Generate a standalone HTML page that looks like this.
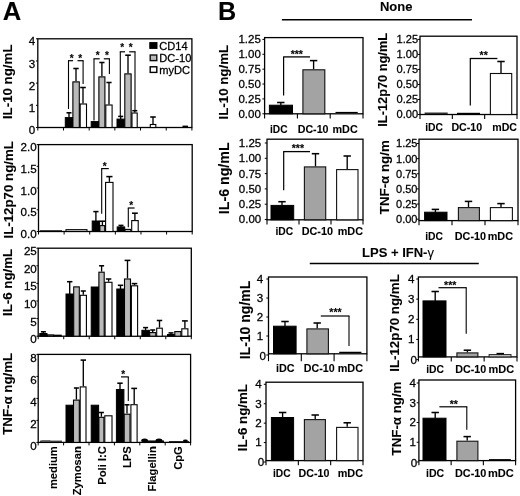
<!DOCTYPE html>
<html><head><meta charset="utf-8"><title>Figure</title>
<style>
html,body{margin:0;padding:0;background:#fff;}
body{width:520px;height:496px;overflow:hidden;}
svg{display:block;font-family:"Liberation Sans", sans-serif;}
text{fill:#000;} text.n{stroke:#000;stroke-width:0.28px;} text.b{stroke:#000;stroke-width:0.1px;}
</style></head>
<body>
<svg width="520" height="496" viewBox="0 0 520 496">
<defs><filter id="soft" x="0" y="0" width="100%" height="100%" filterUnits="userSpaceOnUse"><feGaussianBlur stdDeviation="0.35"/></filter></defs>
<rect x="0" y="0" width="520" height="496" fill="#fff"/>
<g filter="url(#soft)">
<text class="b" x="2.70" y="19.60" font-size="25.6" font-weight="bold" text-anchor="start">A</text>
<text class="b" x="218.00" y="19.60" font-size="25.2" font-weight="bold" text-anchor="start">B</text>
<rect x="37.80" y="38.80" width="154.10" height="88.70" fill="none" stroke="#000" stroke-width="1.3"/>
<line x1="36.00" y1="127.50" x2="37.80" y2="127.50" stroke="#000" stroke-width="1.0"/>
<text class="n" x="35.20" y="134.10" font-size="11.6" font-weight="normal" text-anchor="end">0</text>
<line x1="36.00" y1="105.33" x2="37.80" y2="105.33" stroke="#000" stroke-width="1.0"/>
<text class="n" x="35.20" y="111.92" font-size="11.6" font-weight="normal" text-anchor="end">1</text>
<line x1="36.00" y1="83.15" x2="37.80" y2="83.15" stroke="#000" stroke-width="1.0"/>
<text class="n" x="35.20" y="89.75" font-size="11.6" font-weight="normal" text-anchor="end">2</text>
<line x1="36.00" y1="60.97" x2="37.80" y2="60.97" stroke="#000" stroke-width="1.0"/>
<text class="n" x="35.20" y="67.57" font-size="11.6" font-weight="normal" text-anchor="end">3</text>
<line x1="36.00" y1="38.80" x2="37.80" y2="38.80" stroke="#000" stroke-width="1.0"/>
<text class="n" x="35.20" y="45.40" font-size="11.6" font-weight="normal" text-anchor="end">4</text>
<line x1="37.80" y1="127.50" x2="37.80" y2="130.50" stroke="#000" stroke-width="1.0"/>
<line x1="63.48" y1="127.50" x2="63.48" y2="130.50" stroke="#000" stroke-width="1.0"/>
<line x1="89.17" y1="127.50" x2="89.17" y2="130.50" stroke="#000" stroke-width="1.0"/>
<line x1="114.85" y1="127.50" x2="114.85" y2="130.50" stroke="#000" stroke-width="1.0"/>
<line x1="140.53" y1="127.50" x2="140.53" y2="130.50" stroke="#000" stroke-width="1.0"/>
<line x1="166.22" y1="127.50" x2="166.22" y2="130.50" stroke="#000" stroke-width="1.0"/>
<line x1="191.90" y1="127.50" x2="191.90" y2="130.50" stroke="#000" stroke-width="1.0"/>
<text class="b" x="12.50" y="81.80" font-size="13.3" font-weight="bold" text-anchor="middle" transform="rotate(-90 12.50 81.80)">IL-10 ng/mL</text>
<rect x="65.30" y="117.60" width="7.30" height="9.90" fill="#000" stroke="#000" stroke-width="1.0"/>
<line x1="69.00" y1="117.60" x2="69.00" y2="112.80" stroke="#000" stroke-width="1.35"/>
<line x1="66.50" y1="112.80" x2="71.50" y2="112.80" stroke="#000" stroke-width="1.55"/>
<rect x="72.90" y="81.90" width="6.40" height="45.60" fill="#bababa" stroke="#000" stroke-width="1.1"/>
<line x1="76.00" y1="81.30" x2="76.00" y2="68.50" stroke="#000" stroke-width="1.35"/>
<line x1="73.30" y1="68.50" x2="78.70" y2="68.50" stroke="#000" stroke-width="1.55"/>
<rect x="80.20" y="104.00" width="6.30" height="23.50" fill="#fff" stroke="#000" stroke-width="1.1"/>
<line x1="83.00" y1="103.40" x2="83.00" y2="87.50" stroke="#000" stroke-width="1.35"/>
<line x1="80.20" y1="87.50" x2="85.80" y2="87.50" stroke="#000" stroke-width="1.55"/>
<rect x="91.20" y="121.60" width="7.40" height="5.90" fill="#000" stroke="#000" stroke-width="1.0"/>
<rect x="98.90" y="76.90" width="6.00" height="50.60" fill="#bababa" stroke="#000" stroke-width="1.1"/>
<line x1="101.90" y1="76.30" x2="101.90" y2="62.50" stroke="#000" stroke-width="1.35"/>
<line x1="99.30" y1="62.50" x2="104.50" y2="62.50" stroke="#000" stroke-width="1.55"/>
<rect x="105.80" y="105.00" width="6.30" height="22.50" fill="#fff" stroke="#000" stroke-width="1.1"/>
<line x1="109.00" y1="104.40" x2="109.00" y2="82.50" stroke="#000" stroke-width="1.35"/>
<line x1="106.40" y1="82.50" x2="111.60" y2="82.50" stroke="#000" stroke-width="1.55"/>
<rect x="117.00" y="119.10" width="7.50" height="8.40" fill="#000" stroke="#000" stroke-width="1.0"/>
<line x1="120.70" y1="119.10" x2="120.70" y2="116.40" stroke="#000" stroke-width="1.35"/>
<line x1="118.20" y1="116.40" x2="123.20" y2="116.40" stroke="#000" stroke-width="1.55"/>
<rect x="124.80" y="73.90" width="6.30" height="53.60" fill="#bababa" stroke="#000" stroke-width="1.1"/>
<line x1="128.00" y1="73.30" x2="128.00" y2="55.20" stroke="#000" stroke-width="1.35"/>
<line x1="125.20" y1="55.20" x2="130.80" y2="55.20" stroke="#000" stroke-width="1.55"/>
<rect x="132.00" y="113.00" width="5.20" height="14.50" fill="#fff" stroke="#000" stroke-width="1.1"/>
<line x1="134.80" y1="112.40" x2="134.80" y2="110.70" stroke="#000" stroke-width="1.35"/>
<line x1="132.30" y1="110.70" x2="137.30" y2="110.70" stroke="#000" stroke-width="1.55"/>
<rect x="150.30" y="124.50" width="5.50" height="3.00" fill="#fff" stroke="#000" stroke-width="1.1"/>
<line x1="153.00" y1="123.90" x2="153.00" y2="117.00" stroke="#000" stroke-width="1.35"/>
<line x1="150.20" y1="117.00" x2="155.80" y2="117.00" stroke="#000" stroke-width="1.55"/>
<line x1="182.50" y1="126.30" x2="188.00" y2="126.30" stroke="#000" stroke-width="1.4"/>
<line x1="68.50" y1="60.70" x2="68.50" y2="109.00" stroke="#000" stroke-width="1.1"/>
<line x1="68.00" y1="60.70" x2="73.10" y2="60.70" stroke="#000" stroke-width="1.2"/>
<line x1="77.50" y1="60.70" x2="83.60" y2="60.70" stroke="#000" stroke-width="1.2"/>
<line x1="83.10" y1="60.70" x2="83.10" y2="84.00" stroke="#000" stroke-width="1.1"/>
<text class="b" x="71.60" y="61.80" font-size="10" font-weight="bold" text-anchor="middle">*</text>
<text class="b" x="80.10" y="61.80" font-size="10" font-weight="bold" text-anchor="middle">*</text>
<line x1="94.00" y1="58.80" x2="94.00" y2="120.50" stroke="#000" stroke-width="1.1"/>
<line x1="93.50" y1="58.80" x2="99.70" y2="58.80" stroke="#000" stroke-width="1.2"/>
<line x1="103.80" y1="58.80" x2="109.90" y2="58.80" stroke="#000" stroke-width="1.2"/>
<line x1="109.40" y1="58.80" x2="109.40" y2="74.00" stroke="#000" stroke-width="1.1"/>
<text class="b" x="97.80" y="58.50" font-size="10" font-weight="bold" text-anchor="middle">*</text>
<text class="b" x="106.90" y="58.50" font-size="10" font-weight="bold" text-anchor="middle">*</text>
<line x1="120.30" y1="51.80" x2="120.30" y2="116.00" stroke="#000" stroke-width="1.1"/>
<line x1="119.80" y1="51.80" x2="125.00" y2="51.80" stroke="#000" stroke-width="1.2"/>
<line x1="129.20" y1="51.80" x2="135.50" y2="51.80" stroke="#000" stroke-width="1.2"/>
<line x1="135.00" y1="51.80" x2="135.00" y2="110.50" stroke="#000" stroke-width="1.1"/>
<text class="b" x="122.20" y="50.60" font-size="10" font-weight="bold" text-anchor="middle">*</text>
<text class="b" x="130.60" y="50.60" font-size="10" font-weight="bold" text-anchor="middle">*</text>
<rect x="149.80" y="42.60" width="7.20" height="5.80" fill="#000" stroke="#000" stroke-width="1.0"/>
<rect x="150.20" y="55.00" width="6.60" height="5.60" fill="#bababa" stroke="#111" stroke-width="1.4"/>
<rect x="150.20" y="66.80" width="6.60" height="5.60" fill="#fff" stroke="#000" stroke-width="1.4"/>
<text class="n" x="159.30" y="49.80" font-size="11.1" font-weight="normal" text-anchor="start">CD14</text>
<text class="n" x="159.30" y="62.10" font-size="11.1" font-weight="normal" text-anchor="start">DC-10</text>
<text class="n" x="159.30" y="73.70" font-size="11.1" font-weight="normal" text-anchor="start">myDC</text>
<rect x="38.50" y="144.60" width="153.70" height="86.90" fill="none" stroke="#000" stroke-width="1.3"/>
<line x1="36.70" y1="231.50" x2="38.50" y2="231.50" stroke="#000" stroke-width="1.0"/>
<text class="n" x="36.60" y="238.00" font-size="11.6" font-weight="normal" text-anchor="end">0.0</text>
<line x1="36.70" y1="209.78" x2="38.50" y2="209.78" stroke="#000" stroke-width="1.0"/>
<text class="n" x="36.60" y="216.28" font-size="11.6" font-weight="normal" text-anchor="end">0.5</text>
<line x1="36.70" y1="188.05" x2="38.50" y2="188.05" stroke="#000" stroke-width="1.0"/>
<text class="n" x="36.60" y="194.55" font-size="11.6" font-weight="normal" text-anchor="end">1.0</text>
<line x1="36.70" y1="166.32" x2="38.50" y2="166.32" stroke="#000" stroke-width="1.0"/>
<text class="n" x="36.60" y="172.82" font-size="11.6" font-weight="normal" text-anchor="end">1.5</text>
<line x1="36.70" y1="144.60" x2="38.50" y2="144.60" stroke="#000" stroke-width="1.0"/>
<text class="n" x="36.60" y="151.10" font-size="11.6" font-weight="normal" text-anchor="end">2.0</text>
<line x1="38.50" y1="231.50" x2="38.50" y2="234.50" stroke="#000" stroke-width="1.0"/>
<line x1="64.12" y1="231.50" x2="64.12" y2="234.50" stroke="#000" stroke-width="1.0"/>
<line x1="89.73" y1="231.50" x2="89.73" y2="234.50" stroke="#000" stroke-width="1.0"/>
<line x1="115.35" y1="231.50" x2="115.35" y2="234.50" stroke="#000" stroke-width="1.0"/>
<line x1="140.97" y1="231.50" x2="140.97" y2="234.50" stroke="#000" stroke-width="1.0"/>
<line x1="166.58" y1="231.50" x2="166.58" y2="234.50" stroke="#000" stroke-width="1.0"/>
<line x1="192.20" y1="231.50" x2="192.20" y2="234.50" stroke="#000" stroke-width="1.0"/>
<text class="b" x="12.60" y="189.80" font-size="13.3" font-weight="bold" text-anchor="middle" transform="rotate(-90 12.60 189.80)">IL-12p70 ng/mL</text>
<rect x="66.00" y="229.60" width="21.00" height="1.90" fill="#bababa" stroke="#000" stroke-width="1.0"/>
<line x1="40.00" y1="230.80" x2="62.00" y2="230.80" stroke="#000" stroke-width="1.0"/>
<rect x="92.20" y="221.00" width="7.40" height="10.50" fill="#000" stroke="#000" stroke-width="1.0"/>
<line x1="95.90" y1="221.00" x2="95.90" y2="211.60" stroke="#000" stroke-width="1.35"/>
<line x1="93.30" y1="211.60" x2="98.50" y2="211.60" stroke="#000" stroke-width="1.55"/>
<rect x="99.90" y="225.60" width="4.80" height="5.90" fill="#bababa" stroke="#000" stroke-width="1.1"/>
<line x1="102.40" y1="225.00" x2="102.40" y2="221.20" stroke="#000" stroke-width="1.35"/>
<line x1="99.70" y1="221.20" x2="105.10" y2="221.20" stroke="#000" stroke-width="1.55"/>
<rect x="105.60" y="182.40" width="7.40" height="49.10" fill="#fff" stroke="#000" stroke-width="1.1"/>
<line x1="109.40" y1="181.80" x2="109.40" y2="176.60" stroke="#000" stroke-width="1.35"/>
<line x1="106.30" y1="176.60" x2="112.50" y2="176.60" stroke="#000" stroke-width="1.55"/>
<line x1="101.70" y1="168.60" x2="101.70" y2="213.70" stroke="#000" stroke-width="1.1"/>
<line x1="101.20" y1="168.60" x2="108.80" y2="168.60" stroke="#000" stroke-width="1.2"/>
<text class="b" x="104.70" y="170.00" font-size="10" font-weight="bold" text-anchor="middle">*</text>
<rect x="117.20" y="226.90" width="7.50" height="4.60" fill="#000" stroke="#000" stroke-width="1.0"/>
<line x1="121.00" y1="226.90" x2="121.00" y2="225.40" stroke="#000" stroke-width="1.35"/>
<line x1="118.50" y1="225.40" x2="123.50" y2="225.40" stroke="#000" stroke-width="1.55"/>
<rect x="125.00" y="229.40" width="5.80" height="2.10" fill="#bababa" stroke="#000" stroke-width="1.1"/>
<rect x="131.70" y="220.60" width="6.50" height="10.90" fill="#fff" stroke="#000" stroke-width="1.1"/>
<line x1="134.90" y1="220.00" x2="134.90" y2="213.20" stroke="#000" stroke-width="1.35"/>
<line x1="132.00" y1="213.20" x2="137.80" y2="213.20" stroke="#000" stroke-width="1.55"/>
<line x1="128.30" y1="208.00" x2="128.30" y2="227.30" stroke="#000" stroke-width="1.1"/>
<line x1="127.80" y1="208.00" x2="134.60" y2="208.00" stroke="#000" stroke-width="1.2"/>
<text class="b" x="131.10" y="208.80" font-size="10" font-weight="bold" text-anchor="middle">*</text>
<rect x="38.20" y="248.20" width="153.10" height="88.00" fill="none" stroke="#000" stroke-width="1.3"/>
<line x1="36.40" y1="336.20" x2="38.20" y2="336.20" stroke="#000" stroke-width="1.0"/>
<text class="n" x="36.80" y="343.20" font-size="11.6" font-weight="normal" text-anchor="end">0</text>
<line x1="36.40" y1="318.60" x2="38.20" y2="318.60" stroke="#000" stroke-width="1.0"/>
<text class="n" x="36.80" y="325.60" font-size="11.6" font-weight="normal" text-anchor="end">5</text>
<line x1="36.40" y1="301.00" x2="38.20" y2="301.00" stroke="#000" stroke-width="1.0"/>
<text class="n" x="36.80" y="308.00" font-size="11.6" font-weight="normal" text-anchor="end">10</text>
<line x1="36.40" y1="283.40" x2="38.20" y2="283.40" stroke="#000" stroke-width="1.0"/>
<text class="n" x="36.80" y="290.40" font-size="11.6" font-weight="normal" text-anchor="end">15</text>
<line x1="36.40" y1="265.80" x2="38.20" y2="265.80" stroke="#000" stroke-width="1.0"/>
<text class="n" x="36.80" y="272.80" font-size="11.6" font-weight="normal" text-anchor="end">20</text>
<line x1="36.40" y1="248.20" x2="38.20" y2="248.20" stroke="#000" stroke-width="1.0"/>
<text class="n" x="36.80" y="255.20" font-size="11.6" font-weight="normal" text-anchor="end">25</text>
<line x1="38.20" y1="336.20" x2="38.20" y2="339.20" stroke="#000" stroke-width="1.0"/>
<line x1="63.72" y1="336.20" x2="63.72" y2="339.20" stroke="#000" stroke-width="1.0"/>
<line x1="89.23" y1="336.20" x2="89.23" y2="339.20" stroke="#000" stroke-width="1.0"/>
<line x1="114.75" y1="336.20" x2="114.75" y2="339.20" stroke="#000" stroke-width="1.0"/>
<line x1="140.27" y1="336.20" x2="140.27" y2="339.20" stroke="#000" stroke-width="1.0"/>
<line x1="165.78" y1="336.20" x2="165.78" y2="339.20" stroke="#000" stroke-width="1.0"/>
<line x1="191.30" y1="336.20" x2="191.30" y2="339.20" stroke="#000" stroke-width="1.0"/>
<text class="b" x="12.40" y="282.40" font-size="13.3" font-weight="bold" text-anchor="middle" transform="rotate(-90 12.40 282.40)">IL-6 ng/mL</text>
<rect x="39.80" y="333.50" width="7.20" height="2.70" fill="#000" stroke="#000" stroke-width="1.0"/>
<line x1="43.40" y1="333.50" x2="43.40" y2="331.80" stroke="#000" stroke-width="1.35"/>
<line x1="40.90" y1="331.80" x2="45.90" y2="331.80" stroke="#000" stroke-width="1.55"/>
<rect x="47.40" y="334.90" width="6.20" height="1.30" fill="#bababa" stroke="#000" stroke-width="1.1"/>
<rect x="54.60" y="335.20" width="6.60" height="1.00" fill="#fff" stroke="#000" stroke-width="1.1"/>
<rect x="66.00" y="294.00" width="7.40" height="42.20" fill="#000" stroke="#000" stroke-width="1.0"/>
<line x1="69.70" y1="294.00" x2="69.70" y2="281.70" stroke="#000" stroke-width="1.35"/>
<line x1="67.00" y1="281.70" x2="72.40" y2="281.70" stroke="#000" stroke-width="1.55"/>
<rect x="73.70" y="286.90" width="5.60" height="49.30" fill="#bababa" stroke="#000" stroke-width="1.1"/>
<rect x="80.20" y="295.30" width="6.20" height="40.90" fill="#fff" stroke="#000" stroke-width="1.1"/>
<line x1="83.30" y1="294.70" x2="83.30" y2="291.00" stroke="#000" stroke-width="1.35"/>
<line x1="80.80" y1="291.00" x2="85.80" y2="291.00" stroke="#000" stroke-width="1.55"/>
<rect x="91.20" y="287.00" width="7.40" height="49.20" fill="#000" stroke="#000" stroke-width="1.0"/>
<rect x="98.90" y="272.20" width="5.30" height="64.00" fill="#bababa" stroke="#000" stroke-width="1.1"/>
<line x1="101.60" y1="271.60" x2="101.60" y2="265.80" stroke="#000" stroke-width="1.35"/>
<line x1="99.10" y1="265.80" x2="104.10" y2="265.80" stroke="#000" stroke-width="1.55"/>
<rect x="105.10" y="282.30" width="6.90" height="53.90" fill="#fff" stroke="#000" stroke-width="1.1"/>
<line x1="108.60" y1="281.70" x2="108.60" y2="279.00" stroke="#000" stroke-width="1.35"/>
<line x1="105.90" y1="279.00" x2="111.30" y2="279.00" stroke="#000" stroke-width="1.55"/>
<rect x="116.80" y="289.00" width="7.40" height="47.20" fill="#000" stroke="#000" stroke-width="1.0"/>
<line x1="120.50" y1="289.00" x2="120.50" y2="285.30" stroke="#000" stroke-width="1.35"/>
<line x1="117.80" y1="285.30" x2="123.20" y2="285.30" stroke="#000" stroke-width="1.55"/>
<rect x="124.50" y="279.00" width="6.00" height="57.20" fill="#bababa" stroke="#000" stroke-width="1.1"/>
<line x1="127.50" y1="278.40" x2="127.50" y2="260.40" stroke="#000" stroke-width="1.35"/>
<line x1="124.60" y1="260.40" x2="130.40" y2="260.40" stroke="#000" stroke-width="1.55"/>
<rect x="131.40" y="285.80" width="6.20" height="50.40" fill="#fff" stroke="#000" stroke-width="1.1"/>
<line x1="134.50" y1="285.20" x2="134.50" y2="283.60" stroke="#000" stroke-width="1.35"/>
<line x1="131.70" y1="283.60" x2="137.30" y2="283.60" stroke="#000" stroke-width="1.55"/>
<rect x="141.90" y="330.30" width="7.50" height="5.90" fill="#000" stroke="#000" stroke-width="1.0"/>
<line x1="145.60" y1="330.30" x2="145.60" y2="327.60" stroke="#000" stroke-width="1.35"/>
<line x1="143.10" y1="327.60" x2="148.10" y2="327.60" stroke="#000" stroke-width="1.55"/>
<rect x="149.70" y="332.60" width="6.10" height="3.60" fill="#bababa" stroke="#000" stroke-width="1.1"/>
<line x1="152.70" y1="332.00" x2="152.70" y2="330.00" stroke="#000" stroke-width="1.35"/>
<line x1="150.20" y1="330.00" x2="155.20" y2="330.00" stroke="#000" stroke-width="1.55"/>
<rect x="156.70" y="328.20" width="5.60" height="8.00" fill="#fff" stroke="#000" stroke-width="1.1"/>
<line x1="159.50" y1="327.60" x2="159.50" y2="320.50" stroke="#000" stroke-width="1.35"/>
<line x1="156.80" y1="320.50" x2="162.20" y2="320.50" stroke="#000" stroke-width="1.55"/>
<rect x="167.50" y="334.50" width="7.00" height="1.70" fill="#000" stroke="#000" stroke-width="1.0"/>
<line x1="171.00" y1="334.50" x2="171.00" y2="332.90" stroke="#000" stroke-width="1.35"/>
<line x1="168.50" y1="332.90" x2="173.50" y2="332.90" stroke="#000" stroke-width="1.55"/>
<rect x="174.80" y="331.60" width="6.10" height="4.60" fill="#bababa" stroke="#000" stroke-width="1.1"/>
<rect x="181.80" y="328.80" width="6.10" height="7.40" fill="#fff" stroke="#000" stroke-width="1.1"/>
<line x1="184.90" y1="328.20" x2="184.90" y2="320.90" stroke="#000" stroke-width="1.35"/>
<line x1="182.00" y1="320.90" x2="187.80" y2="320.90" stroke="#000" stroke-width="1.55"/>
<rect x="38.20" y="354.40" width="152.40" height="88.00" fill="none" stroke="#000" stroke-width="1.3"/>
<line x1="36.40" y1="442.40" x2="38.20" y2="442.40" stroke="#000" stroke-width="1.0"/>
<text class="n" x="36.60" y="449.80" font-size="11.6" font-weight="normal" text-anchor="end">0</text>
<line x1="36.40" y1="420.40" x2="38.20" y2="420.40" stroke="#000" stroke-width="1.0"/>
<text class="n" x="36.60" y="427.80" font-size="11.6" font-weight="normal" text-anchor="end">2</text>
<line x1="36.40" y1="398.40" x2="38.20" y2="398.40" stroke="#000" stroke-width="1.0"/>
<text class="n" x="36.60" y="405.80" font-size="11.6" font-weight="normal" text-anchor="end">4</text>
<line x1="36.40" y1="376.40" x2="38.20" y2="376.40" stroke="#000" stroke-width="1.0"/>
<text class="n" x="36.60" y="383.80" font-size="11.6" font-weight="normal" text-anchor="end">6</text>
<line x1="36.40" y1="354.40" x2="38.20" y2="354.40" stroke="#000" stroke-width="1.0"/>
<text class="n" x="36.60" y="361.80" font-size="11.6" font-weight="normal" text-anchor="end">8</text>
<line x1="38.20" y1="442.40" x2="38.20" y2="445.40" stroke="#000" stroke-width="1.0"/>
<line x1="63.60" y1="442.40" x2="63.60" y2="445.40" stroke="#000" stroke-width="1.0"/>
<line x1="89.00" y1="442.40" x2="89.00" y2="445.40" stroke="#000" stroke-width="1.0"/>
<line x1="114.40" y1="442.40" x2="114.40" y2="445.40" stroke="#000" stroke-width="1.0"/>
<line x1="139.80" y1="442.40" x2="139.80" y2="445.40" stroke="#000" stroke-width="1.0"/>
<line x1="165.20" y1="442.40" x2="165.20" y2="445.40" stroke="#000" stroke-width="1.0"/>
<line x1="190.60" y1="442.40" x2="190.60" y2="445.40" stroke="#000" stroke-width="1.0"/>
<text class="b" x="12.40" y="393.80" font-size="13.3" font-weight="bold" text-anchor="middle" transform="rotate(-90 12.40 393.80)">TNF-&#945; ng/mL</text>
<line x1="40.00" y1="441.20" x2="62.00" y2="441.20" stroke="#000" stroke-width="1.0"/>
<rect x="42.00" y="440.60" width="8.00" height="1.00" fill="#555" stroke="#555" stroke-width="0.5"/>
<rect x="66.00" y="405.20" width="7.20" height="37.20" fill="#000" stroke="#000" stroke-width="1.0"/>
<rect x="73.50" y="400.10" width="5.80" height="42.30" fill="#bababa" stroke="#000" stroke-width="1.1"/>
<line x1="76.40" y1="399.50" x2="76.40" y2="388.00" stroke="#000" stroke-width="1.35"/>
<line x1="73.90" y1="388.00" x2="78.90" y2="388.00" stroke="#000" stroke-width="1.55"/>
<rect x="80.20" y="386.90" width="5.80" height="55.50" fill="#fff" stroke="#000" stroke-width="1.1"/>
<line x1="83.30" y1="386.30" x2="83.30" y2="360.10" stroke="#000" stroke-width="1.35"/>
<line x1="80.60" y1="360.10" x2="86.00" y2="360.10" stroke="#000" stroke-width="1.55"/>
<rect x="91.20" y="405.20" width="7.40" height="37.20" fill="#000" stroke="#000" stroke-width="1.0"/>
<rect x="98.90" y="417.30" width="5.00" height="25.10" fill="#bababa" stroke="#000" stroke-width="1.1"/>
<line x1="101.40" y1="416.70" x2="101.40" y2="412.50" stroke="#000" stroke-width="1.35"/>
<line x1="98.90" y1="412.50" x2="103.90" y2="412.50" stroke="#000" stroke-width="1.55"/>
<rect x="104.80" y="415.80" width="7.20" height="26.60" fill="#fff" stroke="#000" stroke-width="1.1"/>
<rect x="116.40" y="389.50" width="7.50" height="52.90" fill="#000" stroke="#000" stroke-width="1.0"/>
<line x1="120.00" y1="389.50" x2="120.00" y2="383.20" stroke="#000" stroke-width="1.35"/>
<line x1="117.30" y1="383.20" x2="122.70" y2="383.20" stroke="#000" stroke-width="1.55"/>
<rect x="124.20" y="414.20" width="5.80" height="28.20" fill="#bababa" stroke="#000" stroke-width="1.1"/>
<line x1="127.00" y1="413.60" x2="127.00" y2="404.80" stroke="#000" stroke-width="1.35"/>
<line x1="124.50" y1="404.80" x2="129.50" y2="404.80" stroke="#000" stroke-width="1.55"/>
<rect x="130.90" y="404.70" width="6.20" height="37.70" fill="#fff" stroke="#000" stroke-width="1.1"/>
<line x1="134.20" y1="404.10" x2="134.20" y2="388.40" stroke="#000" stroke-width="1.35"/>
<line x1="131.30" y1="388.40" x2="137.10" y2="388.40" stroke="#000" stroke-width="1.55"/>
<line x1="121.00" y1="376.90" x2="128.80" y2="376.90" stroke="#000" stroke-width="1.2"/>
<line x1="128.30" y1="376.90" x2="128.30" y2="401.00" stroke="#000" stroke-width="1.1"/>
<text class="b" x="123.10" y="377.60" font-size="10" font-weight="bold" text-anchor="middle">*</text>
<ellipse cx="144.6" cy="440.4" rx="3.4" ry="2.0" fill="#000"/>
<ellipse cx="159" cy="440.4" rx="3.4" ry="2.0" fill="#000"/>
<line x1="142.00" y1="441.20" x2="164.00" y2="441.20" stroke="#000" stroke-width="1.5"/>
<ellipse cx="185.4" cy="440.8" rx="2.4" ry="1.4" fill="#000"/>
<line x1="169.00" y1="441.60" x2="189.00" y2="441.60" stroke="#000" stroke-width="0.9"/>
<text class="b" x="57.00" y="446.20" font-size="11.2" font-weight="bold" text-anchor="end" transform="rotate(-90 57.00 446.20)">medium</text>
<text class="b" x="81.50" y="446.20" font-size="11.2" font-weight="bold" text-anchor="end" transform="rotate(-90 81.50 446.20)">Zymosan</text>
<text class="b" x="106.20" y="446.20" font-size="11.2" font-weight="bold" text-anchor="end" transform="rotate(-90 106.20 446.20)">Poli I:C</text>
<text class="b" x="130.90" y="446.20" font-size="11.2" font-weight="bold" text-anchor="end" transform="rotate(-90 130.90 446.20)">LPS</text>
<text class="b" x="156.40" y="446.20" font-size="11.2" font-weight="bold" text-anchor="end" transform="rotate(-90 156.40 446.20)">Flagellin</text>
<text class="b" x="182.20" y="446.20" font-size="11.2" font-weight="bold" text-anchor="end" transform="rotate(-90 182.20 446.20)">CpG</text>
<text class="b" x="396.20" y="11.20" font-size="13" font-weight="bold" text-anchor="middle">None</text>
<line x1="281.90" y1="19.80" x2="472.00" y2="19.80" stroke="#000" stroke-width="1.4"/>
<text class="b" x="398.00" y="256.80" font-size="13" font-weight="bold" text-anchor="middle">LPS + IFN-<tspan font-weight="normal">&#947;</tspan></text>
<line x1="309.80" y1="263.50" x2="478.80" y2="263.50" stroke="#000" stroke-width="1.4"/>
<rect x="264.60" y="37.60" width="98.40" height="76.20" fill="none" stroke="#000" stroke-width="1.3"/>
<line x1="262.40" y1="113.80" x2="264.60" y2="113.80" stroke="#000" stroke-width="1.0"/>
<text class="n" x="260.80" y="117.70" font-size="11.5" font-weight="normal" text-anchor="end">0.00</text>
<line x1="262.40" y1="98.92" x2="264.60" y2="98.92" stroke="#000" stroke-width="1.0"/>
<text class="n" x="260.80" y="102.82" font-size="11.5" font-weight="normal" text-anchor="end">0.25</text>
<line x1="262.40" y1="84.04" x2="264.60" y2="84.04" stroke="#000" stroke-width="1.0"/>
<text class="n" x="260.80" y="87.94" font-size="11.5" font-weight="normal" text-anchor="end">0.50</text>
<line x1="262.40" y1="69.16" x2="264.60" y2="69.16" stroke="#000" stroke-width="1.0"/>
<text class="n" x="260.80" y="73.06" font-size="11.5" font-weight="normal" text-anchor="end">0.75</text>
<line x1="262.40" y1="54.28" x2="264.60" y2="54.28" stroke="#000" stroke-width="1.0"/>
<text class="n" x="260.80" y="58.18" font-size="11.5" font-weight="normal" text-anchor="end">1.00</text>
<line x1="262.40" y1="39.40" x2="264.60" y2="39.40" stroke="#000" stroke-width="1.0"/>
<text class="n" x="260.80" y="43.30" font-size="11.5" font-weight="normal" text-anchor="end">1.25</text>
<line x1="264.60" y1="113.80" x2="264.60" y2="118.40" stroke="#000" stroke-width="1.1"/>
<line x1="297.40" y1="113.80" x2="297.40" y2="118.40" stroke="#000" stroke-width="1.1"/>
<line x1="330.20" y1="113.80" x2="330.20" y2="118.40" stroke="#000" stroke-width="1.1"/>
<line x1="363.00" y1="113.80" x2="363.00" y2="118.40" stroke="#000" stroke-width="1.1"/>
<text class="b" x="228.50" y="82.20" font-size="13.3" font-weight="bold" text-anchor="middle" transform="rotate(-90 228.50 82.20)">IL-10 ng/mL</text>
<text class="b" x="270.00" y="132.50" font-size="11.8" font-weight="bold" textLength="17.50" lengthAdjust="spacingAndGlyphs">iDC</text>
<text class="b" x="297.70" y="132.50" font-size="11.8" font-weight="bold" textLength="30.80" lengthAdjust="spacingAndGlyphs">DC-10</text>
<text class="b" x="332.50" y="132.50" font-size="11.8" font-weight="bold" textLength="25.20" lengthAdjust="spacingAndGlyphs">mDC</text>
<rect x="269.40" y="105.20" width="23.10" height="8.60" fill="#000" stroke="#000" stroke-width="1.0"/>
<line x1="280.80" y1="105.20" x2="280.80" y2="102.50" stroke="#000" stroke-width="1.35"/>
<line x1="277.10" y1="102.50" x2="284.50" y2="102.50" stroke="#000" stroke-width="1.55"/>
<rect x="302.90" y="69.80" width="21.90" height="44.00" fill="#a3a3a3" stroke="#111" stroke-width="1.1"/>
<line x1="313.60" y1="69.20" x2="313.60" y2="60.60" stroke="#000" stroke-width="1.35"/>
<line x1="309.90" y1="60.60" x2="317.30" y2="60.60" stroke="#000" stroke-width="1.55"/>
<line x1="335.50" y1="112.50" x2="357.70" y2="112.50" stroke="#000" stroke-width="1.2"/>
<line x1="283.60" y1="56.90" x2="283.60" y2="95.50" stroke="#000" stroke-width="1.2"/>
<line x1="283.10" y1="56.90" x2="310.00" y2="56.90" stroke="#000" stroke-width="1.3"/>
<text class="b" x="296.80" y="58.20" font-size="10.5" font-weight="bold" text-anchor="middle">***</text>
<rect x="420.00" y="36.20" width="97.00" height="78.30" fill="none" stroke="#000" stroke-width="1.3"/>
<line x1="417.80" y1="114.50" x2="420.00" y2="114.50" stroke="#000" stroke-width="1.0"/>
<text class="n" x="418.20" y="118.40" font-size="11.1" font-weight="normal" text-anchor="end">0.00</text>
<line x1="417.80" y1="99.48" x2="420.00" y2="99.48" stroke="#000" stroke-width="1.0"/>
<text class="n" x="418.20" y="103.38" font-size="11.1" font-weight="normal" text-anchor="end">0.25</text>
<line x1="417.80" y1="84.46" x2="420.00" y2="84.46" stroke="#000" stroke-width="1.0"/>
<text class="n" x="418.20" y="88.36" font-size="11.1" font-weight="normal" text-anchor="end">0.50</text>
<line x1="417.80" y1="69.44" x2="420.00" y2="69.44" stroke="#000" stroke-width="1.0"/>
<text class="n" x="418.20" y="73.34" font-size="11.1" font-weight="normal" text-anchor="end">0.75</text>
<line x1="417.80" y1="54.42" x2="420.00" y2="54.42" stroke="#000" stroke-width="1.0"/>
<text class="n" x="418.20" y="58.32" font-size="11.1" font-weight="normal" text-anchor="end">1.00</text>
<line x1="417.80" y1="39.40" x2="420.00" y2="39.40" stroke="#000" stroke-width="1.0"/>
<text class="n" x="418.20" y="43.30" font-size="11.1" font-weight="normal" text-anchor="end">1.25</text>
<line x1="420.00" y1="114.50" x2="420.00" y2="119.10" stroke="#000" stroke-width="1.1"/>
<line x1="452.33" y1="114.50" x2="452.33" y2="119.10" stroke="#000" stroke-width="1.1"/>
<line x1="484.67" y1="114.50" x2="484.67" y2="119.10" stroke="#000" stroke-width="1.1"/>
<line x1="517.00" y1="114.50" x2="517.00" y2="119.10" stroke="#000" stroke-width="1.1"/>
<text class="b" x="387.00" y="79.80" font-size="12.8" font-weight="bold" text-anchor="middle" transform="rotate(-90 387.00 79.80)">IL-12p70 ng/mL</text>
<text class="b" x="425.20" y="130.90" font-size="11.8" font-weight="bold" textLength="17.80" lengthAdjust="spacingAndGlyphs">iDC</text>
<text class="b" x="451.40" y="130.90" font-size="11.8" font-weight="bold" textLength="30.80" lengthAdjust="spacingAndGlyphs">DC-10</text>
<text class="b" x="492.30" y="130.90" font-size="11.8" font-weight="bold" textLength="24.70" lengthAdjust="spacingAndGlyphs">mDC</text>
<line x1="424.60" y1="113.20" x2="447.70" y2="113.20" stroke="#000" stroke-width="1.2"/>
<line x1="457.00" y1="113.40" x2="480.00" y2="113.40" stroke="#000" stroke-width="1.2"/>
<rect x="490.40" y="73.50" width="21.30" height="41.00" fill="#fff" stroke="#111" stroke-width="1.1"/>
<line x1="501.00" y1="72.90" x2="501.00" y2="61.50" stroke="#000" stroke-width="1.35"/>
<line x1="497.30" y1="61.50" x2="504.70" y2="61.50" stroke="#000" stroke-width="1.55"/>
<line x1="470.30" y1="58.50" x2="470.30" y2="105.50" stroke="#000" stroke-width="1.2"/>
<line x1="469.80" y1="58.50" x2="497.40" y2="58.50" stroke="#000" stroke-width="1.3"/>
<text class="b" x="483.70" y="59.00" font-size="10.5" font-weight="bold" text-anchor="middle">**</text>
<rect x="267.00" y="139.20" width="96.00" height="80.60" fill="none" stroke="#000" stroke-width="1.3"/>
<line x1="264.80" y1="219.50" x2="267.00" y2="219.50" stroke="#000" stroke-width="1.0"/>
<text class="n" x="261.20" y="223.40" font-size="11.5" font-weight="normal" text-anchor="end">0.00</text>
<line x1="264.80" y1="204.20" x2="267.00" y2="204.20" stroke="#000" stroke-width="1.0"/>
<text class="n" x="261.20" y="208.10" font-size="11.5" font-weight="normal" text-anchor="end">0.25</text>
<line x1="264.80" y1="188.90" x2="267.00" y2="188.90" stroke="#000" stroke-width="1.0"/>
<text class="n" x="261.20" y="192.80" font-size="11.5" font-weight="normal" text-anchor="end">0.50</text>
<line x1="264.80" y1="173.60" x2="267.00" y2="173.60" stroke="#000" stroke-width="1.0"/>
<text class="n" x="261.20" y="177.50" font-size="11.5" font-weight="normal" text-anchor="end">0.75</text>
<line x1="264.80" y1="158.30" x2="267.00" y2="158.30" stroke="#000" stroke-width="1.0"/>
<text class="n" x="261.20" y="162.20" font-size="11.5" font-weight="normal" text-anchor="end">1.00</text>
<line x1="264.80" y1="143.00" x2="267.00" y2="143.00" stroke="#000" stroke-width="1.0"/>
<text class="n" x="261.20" y="146.90" font-size="11.5" font-weight="normal" text-anchor="end">1.25</text>
<line x1="267.00" y1="219.80" x2="267.00" y2="224.40" stroke="#000" stroke-width="1.1"/>
<line x1="299.00" y1="219.80" x2="299.00" y2="224.40" stroke="#000" stroke-width="1.1"/>
<line x1="331.00" y1="219.80" x2="331.00" y2="224.40" stroke="#000" stroke-width="1.1"/>
<line x1="363.00" y1="219.80" x2="363.00" y2="224.40" stroke="#000" stroke-width="1.1"/>
<text class="b" x="229.30" y="178.30" font-size="14.2" font-weight="bold" text-anchor="middle" transform="rotate(-90 229.30 178.30)">IL-6 ng/mL</text>
<text class="b" x="275.40" y="235.40" font-size="11.8" font-weight="bold" textLength="17.80" lengthAdjust="spacingAndGlyphs">iDC</text>
<text class="b" x="301.70" y="235.40" font-size="11.8" font-weight="bold" textLength="31.30" lengthAdjust="spacingAndGlyphs">DC-10</text>
<text class="b" x="337.70" y="235.40" font-size="11.8" font-weight="bold" textLength="25.30" lengthAdjust="spacingAndGlyphs">mDC</text>
<rect x="271.00" y="205.40" width="22.70" height="14.40" fill="#000" stroke="#000" stroke-width="1.0"/>
<line x1="282.00" y1="205.40" x2="282.00" y2="201.70" stroke="#000" stroke-width="1.35"/>
<line x1="278.30" y1="201.70" x2="285.70" y2="201.70" stroke="#000" stroke-width="1.55"/>
<rect x="304.40" y="166.90" width="21.30" height="52.90" fill="#a3a3a3" stroke="#111" stroke-width="1.1"/>
<line x1="315.50" y1="166.30" x2="315.50" y2="153.70" stroke="#000" stroke-width="1.35"/>
<line x1="311.80" y1="153.70" x2="319.20" y2="153.70" stroke="#000" stroke-width="1.55"/>
<rect x="336.60" y="169.60" width="21.40" height="50.20" fill="#fff" stroke="#111" stroke-width="1.1"/>
<line x1="347.20" y1="169.00" x2="347.20" y2="156.00" stroke="#000" stroke-width="1.35"/>
<line x1="343.50" y1="156.00" x2="350.90" y2="156.00" stroke="#000" stroke-width="1.55"/>
<line x1="283.70" y1="151.60" x2="283.70" y2="190.20" stroke="#000" stroke-width="1.2"/>
<line x1="283.20" y1="151.60" x2="310.00" y2="151.60" stroke="#000" stroke-width="1.3"/>
<text class="b" x="297.90" y="152.40" font-size="10.5" font-weight="bold" text-anchor="middle">***</text>
<rect x="419.00" y="139.20" width="99.00" height="81.40" fill="none" stroke="#000" stroke-width="1.3"/>
<line x1="416.80" y1="219.20" x2="419.00" y2="219.20" stroke="#000" stroke-width="1.0"/>
<text class="n" x="417.50" y="223.10" font-size="11.0" font-weight="normal" text-anchor="end">0.00</text>
<line x1="416.80" y1="204.06" x2="419.00" y2="204.06" stroke="#000" stroke-width="1.0"/>
<text class="n" x="417.50" y="207.96" font-size="11.0" font-weight="normal" text-anchor="end">0.25</text>
<line x1="416.80" y1="188.92" x2="419.00" y2="188.92" stroke="#000" stroke-width="1.0"/>
<text class="n" x="417.50" y="192.82" font-size="11.0" font-weight="normal" text-anchor="end">0.50</text>
<line x1="416.80" y1="173.78" x2="419.00" y2="173.78" stroke="#000" stroke-width="1.0"/>
<text class="n" x="417.50" y="177.68" font-size="11.0" font-weight="normal" text-anchor="end">0.75</text>
<line x1="416.80" y1="158.64" x2="419.00" y2="158.64" stroke="#000" stroke-width="1.0"/>
<text class="n" x="417.50" y="162.54" font-size="11.0" font-weight="normal" text-anchor="end">1.00</text>
<line x1="416.80" y1="143.50" x2="419.00" y2="143.50" stroke="#000" stroke-width="1.0"/>
<text class="n" x="417.50" y="147.40" font-size="11.0" font-weight="normal" text-anchor="end">1.25</text>
<line x1="419.00" y1="220.60" x2="419.00" y2="225.20" stroke="#000" stroke-width="1.1"/>
<line x1="452.00" y1="220.60" x2="452.00" y2="225.20" stroke="#000" stroke-width="1.1"/>
<line x1="485.00" y1="220.60" x2="485.00" y2="225.20" stroke="#000" stroke-width="1.1"/>
<line x1="518.00" y1="220.60" x2="518.00" y2="225.20" stroke="#000" stroke-width="1.1"/>
<text class="b" x="388.60" y="177.20" font-size="13.3" font-weight="bold" text-anchor="middle" transform="rotate(-90 388.60 177.20)">TNF-&#945; ng/m</text>
<text class="b" x="425.20" y="239.90" font-size="11.8" font-weight="bold" textLength="17.80" lengthAdjust="spacingAndGlyphs">iDC</text>
<text class="b" x="454.80" y="239.90" font-size="11.8" font-weight="bold" textLength="31.20" lengthAdjust="spacingAndGlyphs">DC-10</text>
<text class="b" x="487.70" y="239.90" font-size="11.8" font-weight="bold" textLength="25.30" lengthAdjust="spacingAndGlyphs">mDC</text>
<rect x="424.60" y="212.20" width="22.40" height="8.40" fill="#000" stroke="#000" stroke-width="1.0"/>
<line x1="435.40" y1="212.20" x2="435.40" y2="209.40" stroke="#000" stroke-width="1.35"/>
<line x1="431.70" y1="209.40" x2="439.10" y2="209.40" stroke="#000" stroke-width="1.55"/>
<rect x="458.40" y="207.60" width="21.00" height="13.00" fill="#a3a3a3" stroke="#111" stroke-width="1.1"/>
<line x1="468.50" y1="207.00" x2="468.50" y2="201.40" stroke="#000" stroke-width="1.35"/>
<line x1="464.80" y1="201.40" x2="472.20" y2="201.40" stroke="#000" stroke-width="1.55"/>
<rect x="490.40" y="207.60" width="22.00" height="13.00" fill="#fff" stroke="#111" stroke-width="1.1"/>
<line x1="501.00" y1="207.00" x2="501.00" y2="203.60" stroke="#000" stroke-width="1.35"/>
<line x1="497.30" y1="203.60" x2="504.70" y2="203.60" stroke="#000" stroke-width="1.55"/>
<rect x="268.50" y="277.00" width="98.40" height="76.80" fill="none" stroke="#000" stroke-width="1.3"/>
<line x1="266.30" y1="355.00" x2="268.50" y2="355.00" stroke="#000" stroke-width="1.0"/>
<text class="n" x="266.00" y="360.30" font-size="11.6" font-weight="normal" text-anchor="end">0</text>
<line x1="266.30" y1="336.00" x2="268.50" y2="336.00" stroke="#000" stroke-width="1.0"/>
<text class="n" x="263.30" y="339.90" font-size="11.6" font-weight="normal" text-anchor="end">1</text>
<line x1="266.30" y1="317.00" x2="268.50" y2="317.00" stroke="#000" stroke-width="1.0"/>
<text class="n" x="263.30" y="320.90" font-size="11.6" font-weight="normal" text-anchor="end">2</text>
<line x1="266.30" y1="298.00" x2="268.50" y2="298.00" stroke="#000" stroke-width="1.0"/>
<text class="n" x="263.30" y="301.90" font-size="11.6" font-weight="normal" text-anchor="end">3</text>
<line x1="266.30" y1="279.00" x2="268.50" y2="279.00" stroke="#000" stroke-width="1.0"/>
<text class="n" x="263.30" y="282.90" font-size="11.6" font-weight="normal" text-anchor="end">4</text>
<line x1="268.50" y1="353.80" x2="268.50" y2="361.20" stroke="#000" stroke-width="1.1"/>
<line x1="301.30" y1="353.80" x2="301.30" y2="361.20" stroke="#000" stroke-width="1.1"/>
<line x1="334.10" y1="353.80" x2="334.10" y2="361.20" stroke="#000" stroke-width="1.1"/>
<line x1="366.90" y1="353.80" x2="366.90" y2="361.20" stroke="#000" stroke-width="1.1"/>
<text class="b" x="250.00" y="320.00" font-size="14.0" font-weight="bold" text-anchor="middle" transform="rotate(-90 250.00 320.00)">IL-10 ng/mL</text>
<text class="b" x="276.00" y="372.20" font-size="11.8" font-weight="bold" textLength="18.60" lengthAdjust="spacingAndGlyphs">iDC</text>
<text class="b" x="303.80" y="372.20" font-size="11.8" font-weight="bold" textLength="30.80" lengthAdjust="spacingAndGlyphs">DC-10</text>
<text class="b" x="337.70" y="372.20" font-size="11.8" font-weight="bold" textLength="25.30" lengthAdjust="spacingAndGlyphs">mDC</text>
<rect x="273.50" y="326.20" width="22.60" height="27.60" fill="#000" stroke="#000" stroke-width="1.0"/>
<line x1="285.00" y1="326.20" x2="285.00" y2="321.50" stroke="#000" stroke-width="1.35"/>
<line x1="281.30" y1="321.50" x2="288.70" y2="321.50" stroke="#000" stroke-width="1.55"/>
<rect x="306.90" y="328.90" width="21.50" height="24.90" fill="#a3a3a3" stroke="#111" stroke-width="1.1"/>
<line x1="317.20" y1="328.30" x2="317.20" y2="323.00" stroke="#000" stroke-width="1.35"/>
<line x1="313.50" y1="323.00" x2="320.90" y2="323.00" stroke="#000" stroke-width="1.55"/>
<line x1="339.20" y1="352.40" x2="361.40" y2="352.40" stroke="#000" stroke-width="1.3"/>
<line x1="320.80" y1="316.00" x2="349.50" y2="316.00" stroke="#000" stroke-width="1.2"/>
<line x1="349.00" y1="316.00" x2="349.00" y2="346.00" stroke="#000" stroke-width="1.1"/>
<text class="b" x="335.50" y="316.40" font-size="10.5" font-weight="bold" text-anchor="middle">***</text>
<rect x="418.40" y="277.00" width="98.60" height="79.90" fill="none" stroke="#000" stroke-width="1.3"/>
<line x1="416.20" y1="359.60" x2="418.40" y2="359.60" stroke="#000" stroke-width="1.0"/>
<text class="n" x="416.90" y="363.90" font-size="11.6" font-weight="normal" text-anchor="end">0</text>
<line x1="416.20" y1="339.45" x2="418.40" y2="339.45" stroke="#000" stroke-width="1.0"/>
<text class="n" x="414.40" y="343.35" font-size="11.6" font-weight="normal" text-anchor="end">1</text>
<line x1="416.20" y1="319.30" x2="418.40" y2="319.30" stroke="#000" stroke-width="1.0"/>
<text class="n" x="414.40" y="323.20" font-size="11.6" font-weight="normal" text-anchor="end">2</text>
<line x1="416.20" y1="299.15" x2="418.40" y2="299.15" stroke="#000" stroke-width="1.0"/>
<text class="n" x="414.40" y="303.05" font-size="11.6" font-weight="normal" text-anchor="end">3</text>
<line x1="416.20" y1="279.00" x2="418.40" y2="279.00" stroke="#000" stroke-width="1.0"/>
<text class="n" x="414.40" y="282.90" font-size="11.6" font-weight="normal" text-anchor="end">4</text>
<line x1="418.40" y1="356.90" x2="418.40" y2="361.50" stroke="#000" stroke-width="1.1"/>
<line x1="451.27" y1="356.90" x2="451.27" y2="361.50" stroke="#000" stroke-width="1.1"/>
<line x1="484.13" y1="356.90" x2="484.13" y2="361.50" stroke="#000" stroke-width="1.1"/>
<line x1="517.00" y1="356.90" x2="517.00" y2="361.50" stroke="#000" stroke-width="1.1"/>
<text class="b" x="399.40" y="323.00" font-size="13.3" font-weight="bold" text-anchor="middle" transform="rotate(-90 399.40 323.00)">IL-12p70 ng/mL</text>
<text class="b" x="426.20" y="373.10" font-size="11.8" font-weight="bold" textLength="17.80" lengthAdjust="spacingAndGlyphs">iDC</text>
<text class="b" x="455.30" y="373.10" font-size="11.8" font-weight="bold" textLength="31.00" lengthAdjust="spacingAndGlyphs">DC-10</text>
<text class="b" x="488.60" y="373.10" font-size="11.8" font-weight="bold" textLength="25.60" lengthAdjust="spacingAndGlyphs">mDC</text>
<rect x="423.00" y="300.90" width="23.00" height="56.00" fill="#000" stroke="#000" stroke-width="1.0"/>
<line x1="435.20" y1="300.90" x2="435.20" y2="291.50" stroke="#000" stroke-width="1.35"/>
<line x1="431.50" y1="291.50" x2="438.90" y2="291.50" stroke="#000" stroke-width="1.55"/>
<rect x="456.90" y="352.90" width="21.00" height="4.00" fill="#a3a3a3" stroke="#111" stroke-width="1.1"/>
<line x1="467.40" y1="352.30" x2="467.40" y2="350.20" stroke="#000" stroke-width="1.35"/>
<line x1="463.70" y1="350.20" x2="471.10" y2="350.20" stroke="#000" stroke-width="1.55"/>
<rect x="489.10" y="354.60" width="21.90" height="2.30" fill="#ccc" stroke="#222" stroke-width="1.0"/>
<line x1="496.50" y1="353.60" x2="504.00" y2="353.60" stroke="#000" stroke-width="1.5"/>
<line x1="438.50" y1="287.70" x2="466.70" y2="287.70" stroke="#000" stroke-width="1.2"/>
<line x1="466.20" y1="287.70" x2="466.20" y2="333.80" stroke="#000" stroke-width="1.1"/>
<text class="b" x="450.20" y="289.20" font-size="10.5" font-weight="bold" text-anchor="middle">***</text>
<rect x="266.00" y="382.20" width="97.00" height="78.40" fill="none" stroke="#000" stroke-width="1.3"/>
<line x1="263.80" y1="462.00" x2="266.00" y2="462.00" stroke="#000" stroke-width="1.0"/>
<text class="n" x="264.30" y="466.10" font-size="11.6" font-weight="normal" text-anchor="end">0</text>
<line x1="263.80" y1="442.57" x2="266.00" y2="442.57" stroke="#000" stroke-width="1.0"/>
<text class="n" x="261.80" y="446.47" font-size="11.6" font-weight="normal" text-anchor="end">1</text>
<line x1="263.80" y1="423.15" x2="266.00" y2="423.15" stroke="#000" stroke-width="1.0"/>
<text class="n" x="261.80" y="427.05" font-size="11.6" font-weight="normal" text-anchor="end">2</text>
<line x1="263.80" y1="403.73" x2="266.00" y2="403.73" stroke="#000" stroke-width="1.0"/>
<text class="n" x="261.80" y="407.62" font-size="11.6" font-weight="normal" text-anchor="end">3</text>
<line x1="263.80" y1="384.30" x2="266.00" y2="384.30" stroke="#000" stroke-width="1.0"/>
<text class="n" x="261.80" y="388.20" font-size="11.6" font-weight="normal" text-anchor="end">4</text>
<line x1="266.00" y1="460.60" x2="266.00" y2="465.20" stroke="#000" stroke-width="1.1"/>
<line x1="298.33" y1="460.60" x2="298.33" y2="465.20" stroke="#000" stroke-width="1.1"/>
<line x1="330.67" y1="460.60" x2="330.67" y2="465.20" stroke="#000" stroke-width="1.1"/>
<line x1="363.00" y1="460.60" x2="363.00" y2="465.20" stroke="#000" stroke-width="1.1"/>
<text class="b" x="247.20" y="417.60" font-size="13.3" font-weight="bold" text-anchor="middle" transform="rotate(-90 247.20 417.60)">IL-6 ng/mL</text>
<text class="b" x="273.00" y="476.90" font-size="11.8" font-weight="bold" textLength="17.60" lengthAdjust="spacingAndGlyphs">iDC</text>
<text class="b" x="298.60" y="476.90" font-size="11.8" font-weight="bold" textLength="30.80" lengthAdjust="spacingAndGlyphs">DC-10</text>
<text class="b" x="337.70" y="476.90" font-size="11.8" font-weight="bold" textLength="25.30" lengthAdjust="spacingAndGlyphs">mDC</text>
<rect x="271.40" y="417.50" width="22.20" height="43.10" fill="#000" stroke="#000" stroke-width="1.0"/>
<line x1="282.60" y1="417.50" x2="282.60" y2="412.50" stroke="#000" stroke-width="1.35"/>
<line x1="278.90" y1="412.50" x2="286.30" y2="412.50" stroke="#000" stroke-width="1.55"/>
<rect x="304.40" y="419.60" width="21.00" height="41.00" fill="#a3a3a3" stroke="#111" stroke-width="1.1"/>
<line x1="315.20" y1="419.00" x2="315.20" y2="415.00" stroke="#000" stroke-width="1.35"/>
<line x1="311.50" y1="415.00" x2="318.90" y2="415.00" stroke="#000" stroke-width="1.55"/>
<rect x="336.60" y="427.40" width="21.40" height="33.20" fill="#fff" stroke="#111" stroke-width="1.1"/>
<line x1="347.20" y1="426.80" x2="347.20" y2="422.80" stroke="#000" stroke-width="1.35"/>
<line x1="343.50" y1="422.80" x2="350.90" y2="422.80" stroke="#000" stroke-width="1.55"/>
<rect x="418.90" y="380.00" width="96.70" height="80.60" fill="none" stroke="#000" stroke-width="1.3"/>
<line x1="416.70" y1="462.00" x2="418.90" y2="462.00" stroke="#000" stroke-width="1.0"/>
<text class="n" x="417.20" y="466.60" font-size="11.6" font-weight="normal" text-anchor="end">0</text>
<line x1="416.70" y1="442.25" x2="418.90" y2="442.25" stroke="#000" stroke-width="1.0"/>
<text class="n" x="416.00" y="446.15" font-size="11.6" font-weight="normal" text-anchor="end">1</text>
<line x1="416.70" y1="422.50" x2="418.90" y2="422.50" stroke="#000" stroke-width="1.0"/>
<text class="n" x="416.00" y="426.40" font-size="11.6" font-weight="normal" text-anchor="end">2</text>
<line x1="416.70" y1="402.75" x2="418.90" y2="402.75" stroke="#000" stroke-width="1.0"/>
<text class="n" x="416.00" y="406.65" font-size="11.6" font-weight="normal" text-anchor="end">3</text>
<line x1="416.70" y1="383.00" x2="418.90" y2="383.00" stroke="#000" stroke-width="1.0"/>
<text class="n" x="416.00" y="386.90" font-size="11.6" font-weight="normal" text-anchor="end">4</text>
<line x1="418.90" y1="460.60" x2="418.90" y2="465.20" stroke="#000" stroke-width="1.1"/>
<line x1="451.13" y1="460.60" x2="451.13" y2="465.20" stroke="#000" stroke-width="1.1"/>
<line x1="483.37" y1="460.60" x2="483.37" y2="465.20" stroke="#000" stroke-width="1.1"/>
<line x1="515.60" y1="460.60" x2="515.60" y2="465.20" stroke="#000" stroke-width="1.1"/>
<text class="b" x="400.60" y="418.50" font-size="13.3" font-weight="bold" text-anchor="middle" transform="rotate(-90 400.60 418.50)">TNF-&#945; ng/m</text>
<text class="b" x="426.00" y="476.90" font-size="11.8" font-weight="bold" textLength="18.20" lengthAdjust="spacingAndGlyphs">iDC</text>
<text class="b" x="455.00" y="476.90" font-size="11.8" font-weight="bold" textLength="31.40" lengthAdjust="spacingAndGlyphs">DC-10</text>
<text class="b" x="487.90" y="476.90" font-size="11.8" font-weight="bold" textLength="25.90" lengthAdjust="spacingAndGlyphs">mDC</text>
<rect x="423.00" y="418.20" width="23.00" height="42.40" fill="#000" stroke="#000" stroke-width="1.0"/>
<line x1="435.20" y1="418.20" x2="435.20" y2="412.50" stroke="#000" stroke-width="1.35"/>
<line x1="431.50" y1="412.50" x2="438.90" y2="412.50" stroke="#000" stroke-width="1.55"/>
<rect x="456.90" y="441.20" width="21.00" height="19.40" fill="#a3a3a3" stroke="#111" stroke-width="1.1"/>
<line x1="467.20" y1="440.60" x2="467.20" y2="436.60" stroke="#000" stroke-width="1.35"/>
<line x1="463.50" y1="436.60" x2="470.90" y2="436.60" stroke="#000" stroke-width="1.55"/>
<line x1="489.00" y1="459.60" x2="510.80" y2="459.60" stroke="#000" stroke-width="1.0"/>
<line x1="439.40" y1="406.80" x2="467.30" y2="406.80" stroke="#000" stroke-width="1.2"/>
<line x1="466.80" y1="406.80" x2="466.80" y2="429.80" stroke="#000" stroke-width="1.1"/>
<text class="b" x="453.80" y="408.20" font-size="10.5" font-weight="bold" text-anchor="middle">**</text>
</g>
</svg>
</body></html>
